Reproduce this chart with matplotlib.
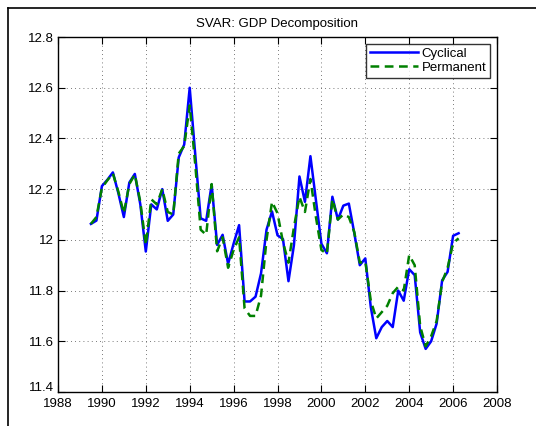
#!/usr/bin/env python
import numpy as np
import matplotlib
matplotlib.use('Agg')
import matplotlib.pyplot as plt
import matplotlib.transforms as mtrans
from matplotlib.lines import Line2D
from matplotlib.ticker import FuncFormatter

plt.rcParams['font.family'] = ['Liberation Sans', 'DejaVu Sans']

# quarterly dates, 1989Q3 .. 2006Q2
dates = np.arange(1989.5, 2006.26, 0.25)

cyclical = [12.063, 12.076, 12.212, 12.237, 12.266, 12.184, 12.09, 12.226,
            12.26, 12.14, 11.954, 12.14, 12.12, 12.20, 12.075, 12.10,
            12.325, 12.376, 12.60, 12.34, 12.085, 12.075, 12.218, 11.98,
            12.02, 11.905, 11.985, 12.058, 11.757, 11.757, 11.776, 11.868,
            12.04, 12.112, 12.018, 12.003, 11.837, 11.98, 12.25, 12.15,
            12.33, 12.157, 11.985, 11.947, 12.17, 12.08, 12.135, 12.143,
            12.026, 11.90, 11.927, 11.735, 11.612, 11.656, 11.68, 11.656,
            11.80, 11.76, 11.884, 11.861, 11.635, 11.57, 11.60, 11.67,
            11.84, 11.874, 12.016, 12.026]

permanent = [12.063, 12.09, 12.205, 12.235, 12.262, 12.19, 12.105, 12.22,
             12.258, 12.15, 11.98, 12.16, 12.14, 12.2, 12.11, 12.1,
             12.34, 12.37, 12.53, 12.3, 12.04, 12.02, 12.22, 11.955,
             12.01, 11.89, 11.96, 12.01, 11.73, 11.70, 11.70, 11.78,
             12.0, 12.15, 12.105, 11.99, 11.91, 12.05, 12.17, 12.11,
             12.24, 12.09, 11.96, 11.945, 12.16, 12.08, 12.1, 12.09,
             12.03, 11.91, 11.915, 11.76, 11.69, 11.715, 11.74, 11.79,
             11.815, 11.80, 11.94, 11.9, 11.66, 11.58, 11.62, 11.68,
             11.834, 11.89, 11.987, 12.006]

xticks = np.arange(1988, 2009, 2)
yticks = np.arange(11.4, 12.81, 0.2)

fig = plt.figure(figsize=(5.36, 4.26), dpi=100)
ax = fig.add_axes([58 / 536, 34 / 426, 439 / 536, 355 / 426])

ax.plot(dates, cyclical, color='#0000ff', lw=1.8, label='Cyclical')
ax.plot(dates, permanent, color='#008000', lw=1.8, ls=(0, (3.5, 2.2)), label='Permanent')

ax.set_xlim(1988, 2008)
ax.set_ylim(11.4, 12.8)
ax.set_xticks(xticks)
ax.set_yticks(yticks)
ax.yaxis.set_major_formatter(FuncFormatter(lambda v, p: '%g' % round(v, 1)))
ax.tick_params(direction='in', top=True, right=True, length=5, width=0.8,
               labelsize=9.5, pad=3)
ax.tick_params(axis='x', pad=4)
ax.grid(True, ls=(0, (1, 4)), color='0.3', lw=0.6)
for s in ax.spines.values():
    s.set_linewidth(1.0)

# lift the lowest y label a little, as in the original
fig.canvas.draw()
lab = ax.get_yticklabels()[0]
lab.set_transform(lab.get_transform() + mtrans.ScaledTranslation(0, 4 / 72, fig.dpi_scale_trans))

ax.set_title('SVAR: GDP Decomposition', fontsize=9.5, pad=7)
leg = ax.legend(loc='upper right', fontsize=9.5, frameon=True, fancybox=False,
                handlelength=3.6, borderaxespad=0.5, labelspacing=0.15,
                borderpad=0.3, handletextpad=0.3)
leg.get_frame().set_edgecolor('black')
leg.get_frame().set_linewidth(1.0)

# window border seen in the screenshot
fig.add_artist(Line2D([8 / 536, 1], [1 - 8 / 426, 1 - 8 / 426], color='black', lw=1.2))
fig.add_artist(Line2D([8 / 536, 8 / 536], [0, 1 - 8 / 426], color='black', lw=1.2))

fig.savefig('out.png', dpi=100)
